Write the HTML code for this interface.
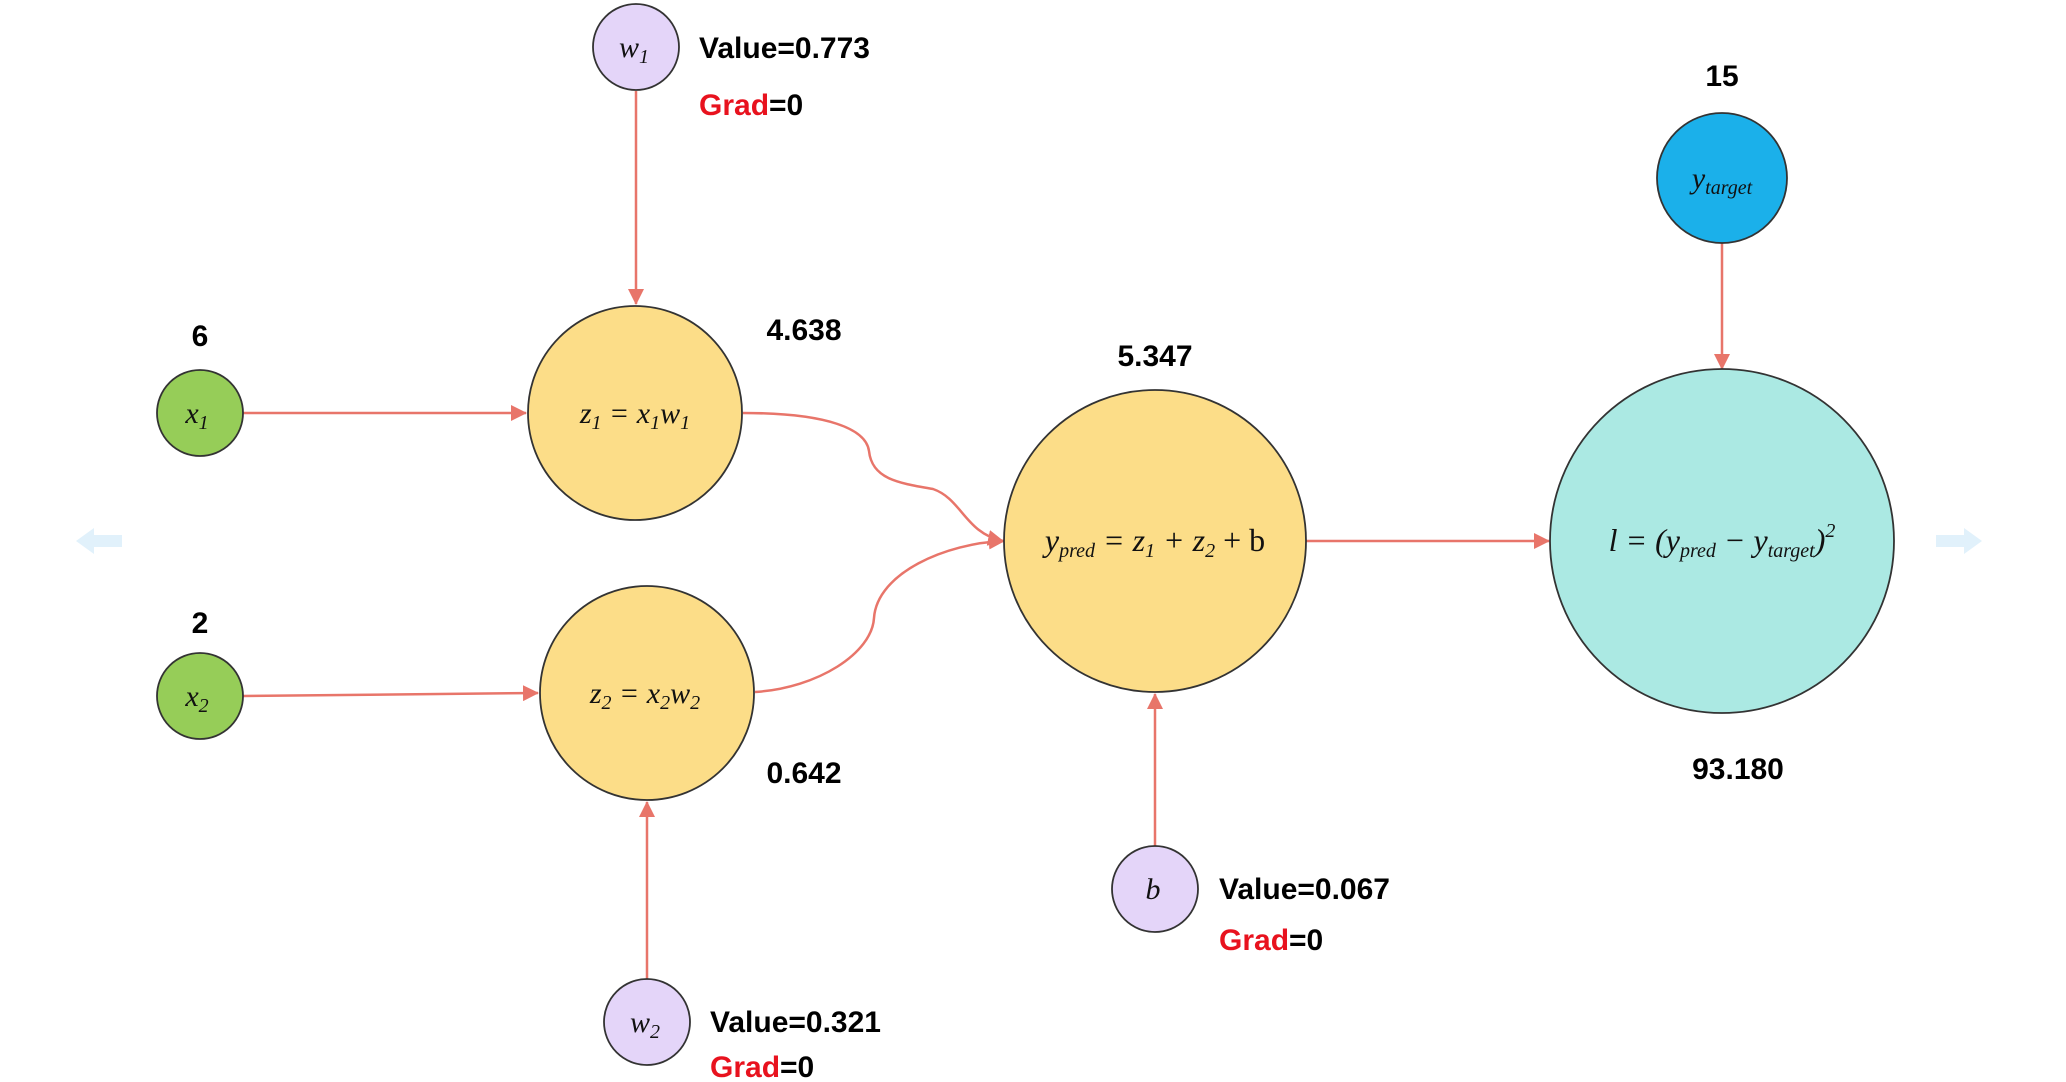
<!DOCTYPE html>
<html><head><meta charset="utf-8"><style>
html,body{margin:0;padding:0;background:#fff}
svg{display:block}
.lbl{font-family:"Liberation Sans",sans-serif;font-weight:bold;font-size:30px;fill:#000}
.m{font-family:"Liberation Serif",serif;font-style:italic;font-size:30px;fill:#111}
.s{font-size:20px}
</style></head><body>
<svg width="2066" height="1082" viewBox="0 0 2066 1082" xmlns="http://www.w3.org/2000/svg">
<defs>
<marker id="ah2" markerWidth="16" markerHeight="16" refX="15" refY="8" orient="auto" markerUnits="userSpaceOnUse" viewBox="0 0 16 16">
<path d="M0,0 L16,8 L0,16 z" fill="#E8756A"/>
</marker>
</defs>
<g stroke="#E8756A" stroke-width="2.5" fill="none">
<line x1="636" y1="91" x2="636" y2="304" marker-end="url(#ah2)"/>
<line x1="243" y1="413" x2="526" y2="413" marker-end="url(#ah2)"/>
<line x1="243" y1="696" x2="538" y2="693" marker-end="url(#ah2)"/>
<line x1="647" y1="979" x2="647" y2="802" marker-end="url(#ah2)"/>
<line x1="1155" y1="846" x2="1155" y2="694" marker-end="url(#ah2)"/>
<line x1="1722" y1="243" x2="1722" y2="369" marker-end="url(#ah2)"/>
<line x1="1306" y1="541" x2="1549" y2="541" marker-end="url(#ah2)"/>
<path d="M743,413 C828,413 866,429 869,451 C872,479 898,483 933,489 C962,499 965,533 1003,541" marker-end="url(#ah2)"/>
<path d="M755,692 C818,688 872,653 874,618 C877,573 946,543 1004,541" marker-end="url(#ah2)"/>
</g>
<path d="M76,541 L94,528 L94,535 L122,535 L122,547 L94,547 L94,554 Z" fill="#E1F1FB"/>
<path d="M1982,541 L1964,528 L1964,535 L1936,535 L1936,547 L1964,547 L1964,554 Z" fill="#E1F1FB"/>
<g stroke="#333" stroke-width="1.8">
<circle cx="636" cy="47" r="43" fill="#E4D5F9"/>
<circle cx="635" cy="413" r="107" fill="#FCDD88"/>
<circle cx="200" cy="413" r="43" fill="#96CD58"/>
<circle cx="200" cy="696" r="43" fill="#96CD58"/>
<circle cx="647" cy="693" r="107" fill="#FCDD88"/>
<circle cx="647" cy="1022" r="43" fill="#E4D5F9"/>
<circle cx="1155" cy="541" r="151" fill="#FCDD88"/>
<circle cx="1155" cy="889" r="43" fill="#E4D5F9"/>
<circle cx="1722" cy="541" r="172" fill="#ABE9E3"/>
<circle cx="1722" cy="178" r="65" fill="#1BB0EA"/>
</g>
<g class="m" text-anchor="middle">
<text x="634" y="57">w<tspan class="s" dy="6">1</tspan></text>
<text x="197" y="423">x<tspan class="s" dy="6">1</tspan></text>
<text x="197" y="706">x<tspan class="s" dy="6">2</tspan></text>
<text x="645" y="1032">w<tspan class="s" dy="6">2</tspan></text>
<text x="1153" y="899">b</text>
<text x="635" y="423">z<tspan class="s" dy="6">1</tspan><tspan dy="-6"> = x</tspan><tspan class="s" dy="6">1</tspan><tspan dy="-6">w</tspan><tspan class="s" dy="6">1</tspan></text>
<text x="645" y="703">z<tspan class="s" dy="6">2</tspan><tspan dy="-6"> = x</tspan><tspan class="s" dy="6">2</tspan><tspan dy="-6">w</tspan><tspan class="s" dy="6">2</tspan></text>
<text x="1155" y="551" font-size="32">y<tspan class="s" dy="6">pred</tspan><tspan dy="-6"> = z</tspan><tspan class="s" dy="6">1</tspan><tspan dy="-6"> + z</tspan><tspan class="s" dy="6">2</tspan><tspan dy="-6" font-style="normal"> + b</tspan></text>
<text x="1722" y="551" font-size="32">l = (y<tspan class="s" dy="6">pred</tspan><tspan dy="-6"> − y</tspan><tspan class="s" dy="6">target</tspan><tspan dy="-6">)</tspan><tspan class="s" dy="-14">2</tspan></text>
<text x="1722" y="188">y<tspan class="s" dy="6">target</tspan></text>
</g>
<g class="lbl">
<text x="699" y="58">Value=0.773</text>
<text x="699" y="115"><tspan fill="#E8121E">Grad</tspan>=0</text>
<text x="710" y="1032">Value=0.321</text>
<text x="710" y="1077"><tspan fill="#E8121E">Grad</tspan>=0</text>
<text x="1219" y="899">Value=0.067</text>
<text x="1219" y="950"><tspan fill="#E8121E">Grad</tspan>=0</text>
</g>
<g class="lbl" text-anchor="middle">
<text x="200" y="346">6</text>
<text x="200" y="633">2</text>
<text x="804" y="340">4.638</text>
<text x="804" y="783">0.642</text>
<text x="1155" y="366">5.347</text>
<text x="1738" y="779">93.180</text>
<text x="1722" y="86">15</text>
</g>
</svg>
</body></html>
